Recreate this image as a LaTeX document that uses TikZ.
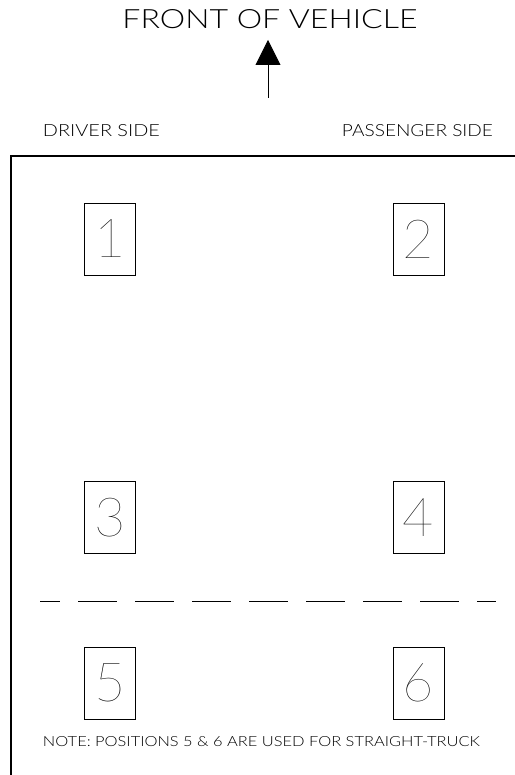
\documentclass[tikz,border=0pt]{standalone}
\usepackage{fontspec}
\usepackage{graphicx}
\usepackage{tikz}
\usetikzlibrary{arrows.meta}
\setmainfont{Lato-Light.ttf}
\newfontfamily\digitfont{Lato-Hairline.ttf}

\begin{document}
\begin{tikzpicture}[x=1pt, y=1pt,
    cadtext/.style={inner sep=0pt, anchor=center},
    posbox/.style={draw, line width=0.9pt, minimum width=51pt, minimum height=72pt,
                   inner sep=0pt, font=\digitfont\fontsize{54}{54}\selectfont},
    frame/.style={line width=1.4pt},
    divider/.style={line width=1pt, dash pattern=on 39pt off 18pt, dash phase=19pt},
    arrow/.style={line width=0.9pt, -{Triangle[length=25pt,width=25pt]}}]

\useasboundingbox (0,0) rectangle (514,775);

\node (title)     [cadtext] at (270,755.5) {\resizebox{295pt}{19pt}{FRONT OF VEHICLE}};
\node (driver)    [cadtext] at (101.5,644) {\resizebox{117pt}{12pt}{DRIVER SIDE}};
\node (passenger) [cadtext] at (417.5,644) {\resizebox{151pt}{12pt}{PASSENGER SIDE}};

\coordinate (tail) at (268,677);
\coordinate (tip)  at (268,735);
\draw [arrow] (tail) -- (tip);

\draw [frame] (11,-2) |- (516,619);

\foreach \n/\x/\y in {1/110/536, 2/418.5/536, 3/110/257.5, 4/418.5/257.5, 5/110/92, 6/418.5/92}
    \node (pos\n) [posbox] at (\x,\y) {\n};

\coordinate (divleft)  at (40,173);
\coordinate (divright) at (496,173);
\draw [divider] (divleft) -- (divright);

\node (note) [cadtext] at (261.5,33)
    {\resizebox{437pt}{10pt}{NOTE: POSITIONS 5 \& 6 ARE USED FOR STRAIGHT-TRUCK}};
\end{tikzpicture}
\end{document}
